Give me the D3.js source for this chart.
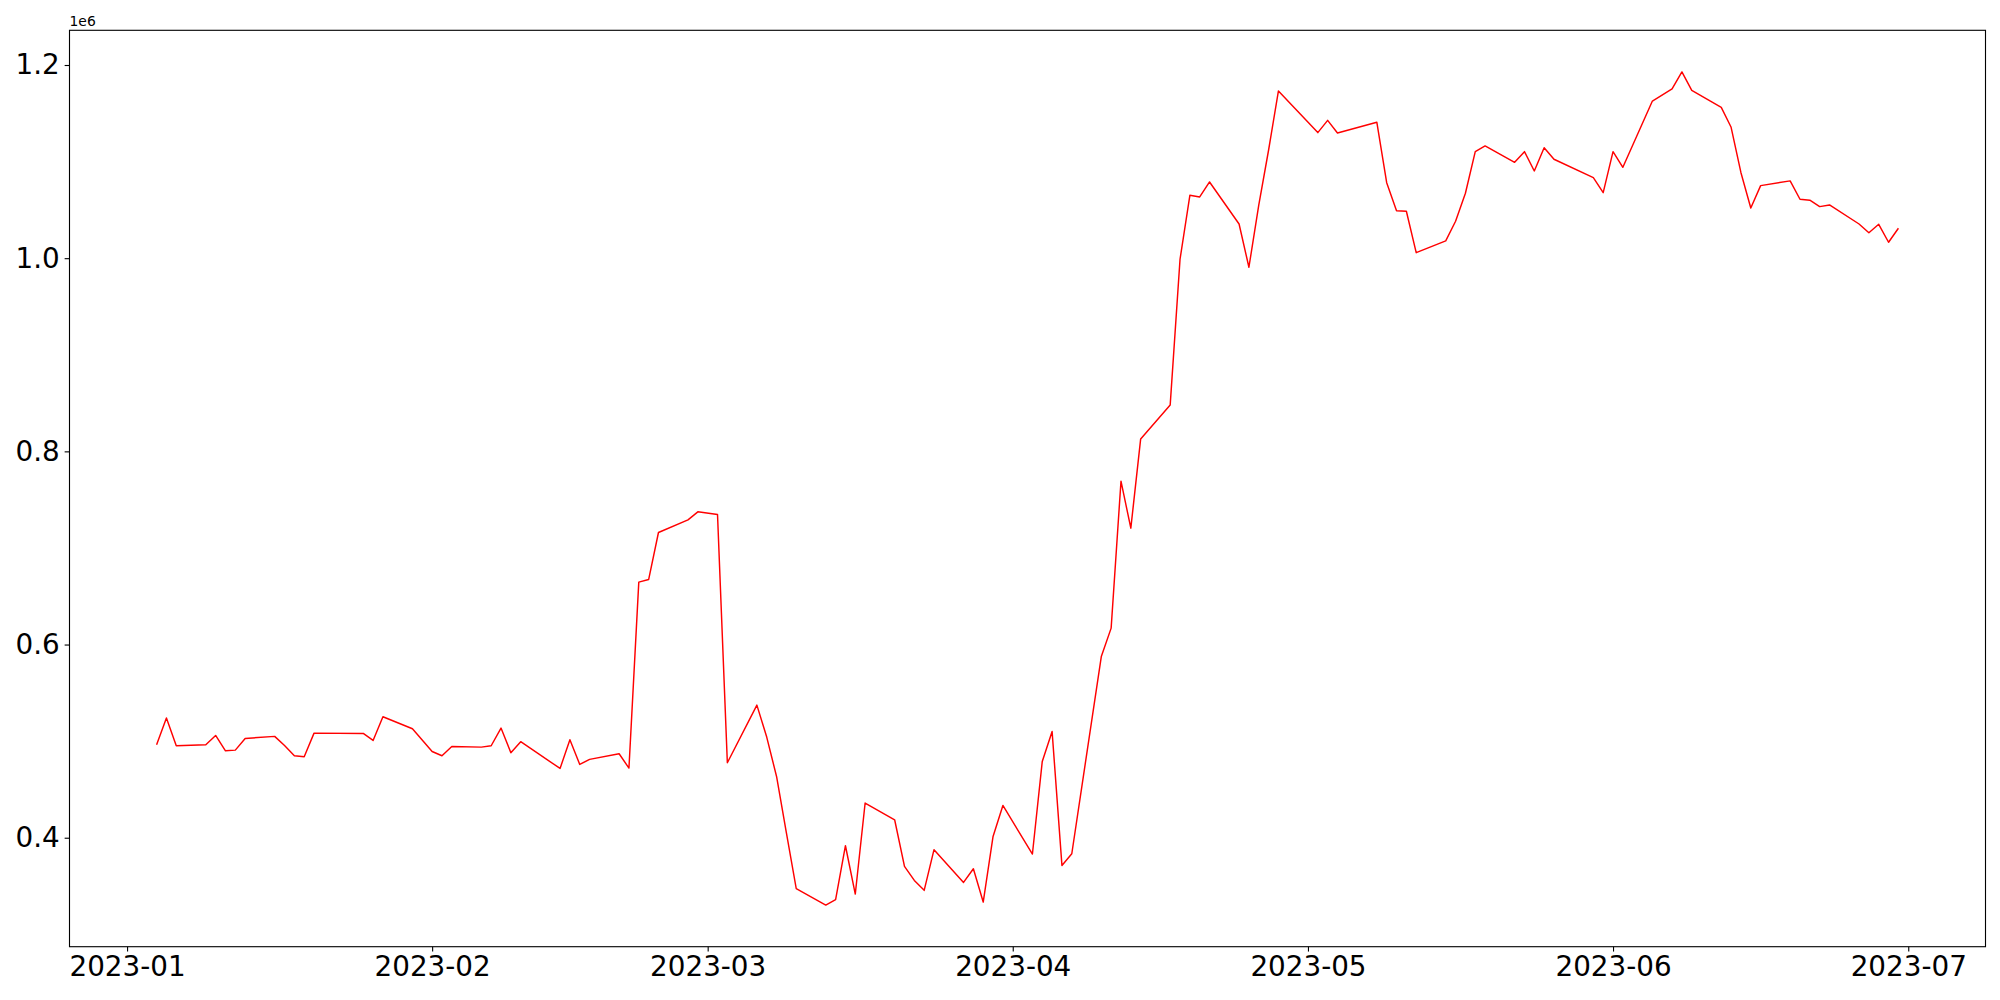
<!DOCTYPE html>
<html>
<head>
<meta charset="utf-8">
<script src="https://cdn.jsdelivr.net/npm/d3@7"></script>
<style>
  body { margin: 0; background: #fff; }
  svg { display: block; font-family: "DejaVu Sans", sans-serif; }
</style>
</head>
<body>
<div id="main"></div>
<script>
// trading days and values
const dates = [
  "2023-01-04", "2023-01-05", "2023-01-06", "2023-01-09", "2023-01-10", "2023-01-11", "2023-01-12", "2023-01-13",
  "2023-01-16", "2023-01-17", "2023-01-18", "2023-01-19", "2023-01-20", "2023-01-25", "2023-01-26", "2023-01-27",
  "2023-01-30", "2023-02-01", "2023-02-02", "2023-02-03", "2023-02-06", "2023-02-07", "2023-02-08", "2023-02-09",
  "2023-02-10", "2023-02-14", "2023-02-15", "2023-02-16", "2023-02-17", "2023-02-20", "2023-02-21", "2023-02-22",
  "2023-02-23", "2023-02-24", "2023-02-27", "2023-02-28", "2023-03-02", "2023-03-03", "2023-03-06", "2023-03-07",
  "2023-03-08", "2023-03-09", "2023-03-10", "2023-03-13", "2023-03-14", "2023-03-15", "2023-03-16", "2023-03-17",
  "2023-03-20", "2023-03-21", "2023-03-22", "2023-03-23", "2023-03-24", "2023-03-27", "2023-03-28", "2023-03-29",
  "2023-03-30", "2023-03-31", "2023-04-03", "2023-04-04", "2023-04-05", "2023-04-06", "2023-04-07", "2023-04-10",
  "2023-04-11", "2023-04-12", "2023-04-13", "2023-04-14", "2023-04-17", "2023-04-18", "2023-04-19", "2023-04-20",
  "2023-04-21", "2023-04-24", "2023-04-25", "2023-04-26", "2023-04-27", "2023-04-28", "2023-05-02", "2023-05-03",
  "2023-05-04", "2023-05-08", "2023-05-09", "2023-05-10", "2023-05-11", "2023-05-12", "2023-05-15", "2023-05-16",
  "2023-05-17", "2023-05-18", "2023-05-19", "2023-05-22", "2023-05-23", "2023-05-24", "2023-05-25", "2023-05-26",
  "2023-05-30", "2023-05-31", "2023-06-01", "2023-06-02", "2023-06-05", "2023-06-07", "2023-06-08", "2023-06-09",
  "2023-06-12", "2023-06-13", "2023-06-14", "2023-06-15", "2023-06-16", "2023-06-19", "2023-06-20", "2023-06-21",
  "2023-06-22", "2023-06-23", "2023-06-26", "2023-06-27", "2023-06-28", "2023-06-29", "2023-06-30"
];

const values = [
  496200, 523900, 495200, 496200, 505900, 490000, 490700, 502800,
  504900, 495500, 484900, 483900, 508300, 508000, 500700, 525200,
  512800, 489300, 484900, 494500, 493800, 495200, 513500, 488000,
  499400, 471700, 501400, 475900, 481100, 486900, 472100, 664600,
  667300, 716000, 729100, 737400, 734600, 477600, 537300, 504200,
  463400, 404900, 347200, 330300, 335800, 391700, 341700, 435900,
  418600, 370300, 355800, 345500, 387600, 353700, 367900, 333400,
  401300, 433400, 383100, 479000, 510000, 371300, 383400, 587600,
  617000, 769100, 720500, 812900, 848100, 998900, 1065100, 1063400,
  1078900, 1035400, 990600, 1055000, 1112000, 1173100, 1130000, 1142700,
  1129600, 1140700, 1078200, 1049200, 1048600, 1005700, 1017900, 1038200,
  1067200, 1110300, 1116200, 1099300, 1110300, 1090300, 1114400, 1102400,
  1083400, 1067800, 1110300, 1094100, 1162700, 1175200, 1192800, 1173800,
  1156200, 1135500, 1088500, 1052000, 1075100, 1080000, 1061000, 1060000,
  1053400, 1055100, 1035400, 1026400, 1035100, 1016500, 1031000
];

const yTicks = [400000, 600000, 800000, 1000000, 1200000];

const box = { upper: 30.3, lower: 53.3, left: 69.5, right: 14.5 };
const width = 2000 - box.left - box.right;
const height = 1000 - box.upper - box.lower;

const parseDate = d3.utcParse("%Y-%m-%d");
const points = dates.map((d, i) => ({ date: parseDate(d), value: values[i] }));

const svg = d3.select("#main")
  .append("svg")
  .attr("width", 2000)
  .attr("height", 1000);

const plot = svg.append("g")
  .attr("transform", `translate(${box.left}, ${box.upper})`);

// matplotlib style 5% margins on both axes
const xExt = d3.extent(points, d => d.date);
const xPad = (xExt[1] - xExt[0]) * 0.05;
const x = d3.scaleUtc()
  .domain([new Date(+xExt[0] - xPad), new Date(+xExt[1] + xPad)])
  .range([0, width]);

const yExt = d3.extent(values);
const yPad = (yExt[1] - yExt[0]) * 0.05;
const y = d3.scaleLinear()
  .domain([yExt[0] - yPad, yExt[1] + yPad])
  .range([height, 0]);

const line = d3.line()
  .x(d => x(d.date))
  .y(d => y(d.value));

plot.append("path")
  .datum(points)
  .attr("fill", "none")
  .attr("stroke", "#ff0000")
  .attr("stroke-width", 1.45)
  .attr("stroke-linejoin", "round")
  .attr("d", line);

const xAxis = plot.append("g")
  .attr("transform", `translate(0, ${height})`)
  .call(d3.axisBottom(x)
    .ticks(d3.utcMonth.every(1))
    .tickFormat(d3.utcFormat("%Y-%m"))
    .tickSize(4.86)
    .tickPadding(4.86));

const yAxis = plot.append("g")
  .call(d3.axisLeft(y)
    .tickValues(yTicks)
    .tickFormat(d => (d / 1e6).toFixed(1))
    .tickSize(4.86)
    .tickPadding(4.86));

[xAxis, yAxis].forEach(ax => {
  ax.select(".domain").remove();
  ax.selectAll(".tick line").attr("stroke", "#000").attr("stroke-width", 1.11);
  ax.selectAll(".tick text")
    .attr("fill", "#000")
    .style("font-family", "'DejaVu Sans', sans-serif")
    .style("font-size", "27.8px");
});

// frame
plot.append("rect")
  .attr("width", width)
  .attr("height", height)
  .attr("fill", "none")
  .attr("stroke", "#000")
  .attr("stroke-width", 1.11);

// scale offset label
svg.append("text")
  .attr("x", box.left)
  .attr("y", 25.7)
  .attr("font-size", "13.9px")
  .attr("fill", "#000")
  .text("1e6");
</script>
</body>
</html>
